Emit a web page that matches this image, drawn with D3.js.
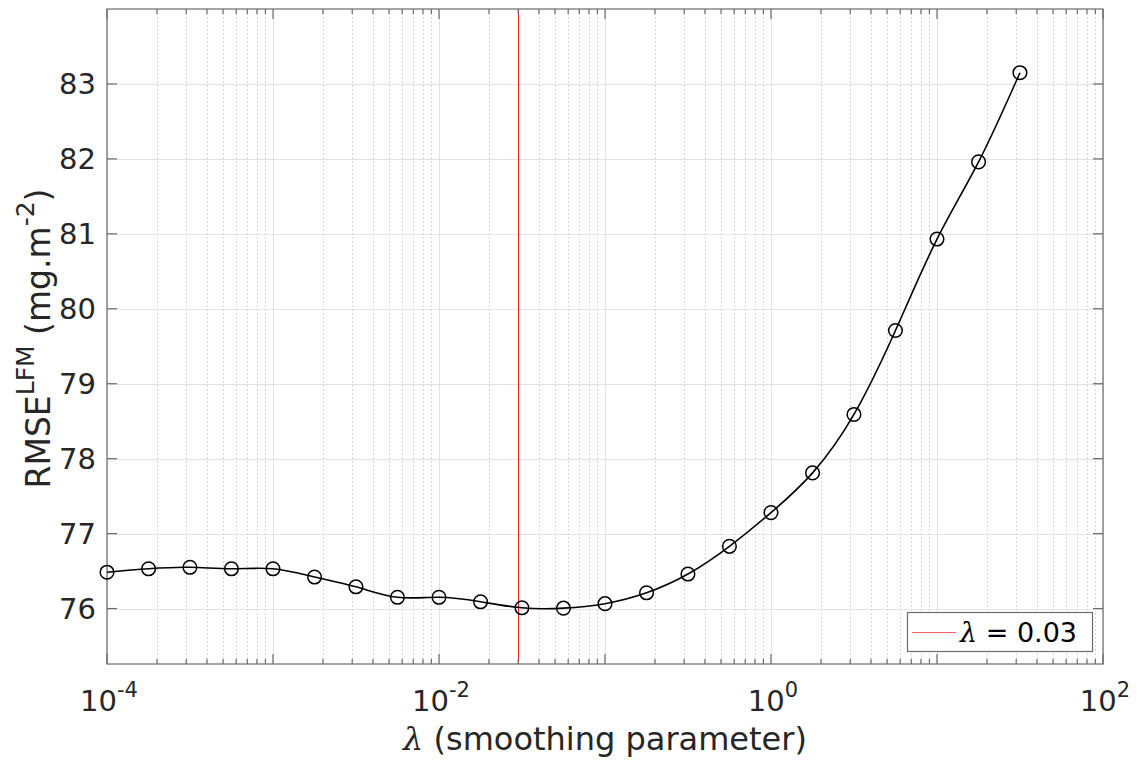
<!DOCTYPE html>
<html>
<head>
<meta charset="utf-8">
<script src="https://cdn.jsdelivr.net/npm/d3@7"></script>
<style>
    body { margin: 0; background: #fff; }
    svg { display: block; font-family: "DejaVu Sans", sans-serif; }
</style>
</head>
<body>
<svg id="chart" width="1138" height="762"></svg>
<script>
(function () {
    'use strict';

    // smoothing parameter values (quarter-decade steps) and the RMSE
    const lambdas = [1.0e-4, 1.78e-4, 3.16e-4, 5.62e-4, 1.0e-3, 1.78e-3, 3.16e-3, 5.62e-3,
                     0.01, 0.0178, 0.0316, 0.0562, 0.1, 0.178, 0.316, 0.562,
                     1, 1.78, 3.16, 5.62, 10, 17.8, 31.6];
    const rmse = [76.485, 76.53, 76.55, 76.53, 76.53, 76.42, 76.29, 76.15,
                  76.15, 76.09, 76.01, 76.005, 76.065, 76.21, 76.46, 76.83,
                  77.28, 77.81, 78.59, 79.71, 80.93, 81.96, 83.15];
    const chosenLambda = 0.03;
    const xDecades = [-4, -3, -2, -1, 0, 1, 2];
    const xTickExponents = [-4, -2, 0, 2];
    const yTicks = [76, 77, 78, 79, 80, 81, 82, 83];

    const left = 107, right = 1103, top = 9, bottom = 664;
    const axisColor = "#6b6b6b";
    const textColor = "#262626";
    const greekFont = "DejaVu Serif";

    const x = d3.scaleLog().domain([1e-4, 1e2]).range([left, right]);
    const y = d3.scaleLinear().domain([75.26, 84]).range([bottom, top]);

    const minorTicks = [];
    xDecades.slice(0, -1).forEach(e => {
        for (let m = 2; m <= 9; m++) minorTicks.push(m * Math.pow(10, e));
    });
    const majorTicks = xDecades.map(e => Math.pow(10, e));

    const svg = d3.select('#chart');

    // grid
    const grid = svg.append("g");
    grid.selectAll("line.minor")
            .data(minorTicks)
            .join("line")
            .attr("x1", d => Math.round(x(d)) + 0.5)
            .attr("x2", d => Math.round(x(d)) + 0.5)
            .attr("y1", top)
            .attr("y2", bottom)
            .attr("stroke", "#d6d6d6")
            .attr("stroke-dasharray", "2,2");
    grid.selectAll("line.majorx")
            .data(majorTicks)
            .join("line")
            .attr("x1", d => Math.round(x(d)) + 0.5)
            .attr("x2", d => Math.round(x(d)) + 0.5)
            .attr("y1", top)
            .attr("y2", bottom)
            .attr("stroke", "#e2e2e2");
    grid.selectAll("line.majory")
            .data(yTicks)
            .join("line")
            .attr("x1", left)
            .attr("x2", right)
            .attr("y1", d => Math.round(y(d)) + 0.5)
            .attr("y2", d => Math.round(y(d)) + 0.5)
            .attr("stroke", "#e2e2e2");

    // chosen lambda
    svg.append("line")
            .attr("x1", Math.round(x(chosenLambda)) + 0.5)
            .attr("x2", Math.round(x(chosenLambda)) + 0.5)
            .attr("y1", top)
            .attr("y2", bottom)
            .attr("stroke", "#ff2020")
            .attr("stroke-width", 1);

    // box and ticks
    const frame = svg.append("g").attr("stroke", axisColor).attr("stroke-width", 1.2);
    frame.append("rect")
            .attr("x", left)
            .attr("y", top)
            .attr("width", right - left)
            .attr("height", bottom - top)
            .attr("fill", "none");

    const xTickData = majorTicks.map(v => ({v, len: 10})).concat(minorTicks.map(v => ({v, len: 5})));
    frame.selectAll("line.xb")
            .data(xTickData)
            .join("line")
            .attr("x1", d => x(d.v))
            .attr("x2", d => x(d.v))
            .attr("y1", bottom)
            .attr("y2", d => bottom - d.len);
    frame.selectAll("line.xt")
            .data(xTickData)
            .join("line")
            .attr("x1", d => x(d.v))
            .attr("x2", d => x(d.v))
            .attr("y1", top)
            .attr("y2", d => top + d.len);
    frame.selectAll("line.yl")
            .data(yTicks)
            .join("line")
            .attr("x1", left)
            .attr("x2", left + 10)
            .attr("y1", d => y(d))
            .attr("y2", d => y(d));
    frame.selectAll("line.yr")
            .data(yTicks)
            .join("line")
            .attr("x1", right)
            .attr("x2", right - 10)
            .attr("y1", d => y(d))
            .attr("y2", d => y(d));

    // tick labels
    svg.append("g")
            .attr("fill", textColor)
            .attr("font-size", 29)
            .attr("text-anchor", "end")
            .selectAll("text")
            .data(yTicks)
            .join("text")
            .attr("x", 96)
            .attr("y", d => y(d))
            .attr("dy", "0.36em")
            .text(d => d);

    const xLabels = svg.append("g")
            .attr("fill", textColor)
            .attr("text-anchor", "middle")
            .selectAll("text")
            .data(xTickExponents)
            .join("text")
            .attr("x", d => x(Math.pow(10, d)) + 2)
            .attr("y", 711)
            .attr("font-size", 29);
    xLabels.append("tspan").text("10");
    xLabels.append("tspan")
            .attr("font-size", 21)
            .attr("dy", -14)
            .text(d => d);

    // curve and markers
    const points = lambdas.map((l, i) => [x(l), y(rmse[i])]);
    svg.append("path")
            .attr("d", d3.line().curve(d3.curveNatural)(points))
            .attr("fill", "none")
            .attr("stroke", "#000")
            .attr("stroke-width", 1.6);
    svg.append("g")
            .selectAll("circle")
            .data(points)
            .join("circle")
            .attr("cx", d => d[0])
            .attr("cy", d => d[1])
            .attr("r", 6.8)
            .attr("fill", "none")
            .attr("stroke", "#000")
            .attr("stroke-width", 1.5);

    // axis labels
    const xTitle = svg.append("text")
            .attr("x", (left + right) / 2)
            .attr("y", 750)
            .attr("text-anchor", "middle")
            .attr("font-size", 32)
            .attr("fill", textColor);
    xTitle.append("tspan").attr("font-family", greekFont).attr("font-style", "italic").text("λ");
    xTitle.append("tspan").text(" (smoothing parameter)");

    const yLabel = svg.append("text")
            .attr("transform", `translate(50,${(top + bottom) / 2 + 2}) rotate(-90)`)
            .attr("text-anchor", "middle")
            .attr("font-size", 33)
            .attr("fill", textColor);
    yLabel.append("tspan").text("RMSE");
    yLabel.append("tspan").attr("font-size", 25).attr("dy", -16).text("LFM");
    yLabel.append("tspan").attr("dy", 16).text(" (mg.m");
    yLabel.append("tspan").attr("font-size", 25).attr("dy", -16).text("-2");
    yLabel.append("tspan").attr("dy", 16).text(")");

    // legend
    const legend = svg.append("g");
    legend.append("rect")
            .attr("x", 907.5)
            .attr("y", 612.5)
            .attr("width", 185)
            .attr("height", 39)
            .attr("fill", "#fff")
            .attr("stroke", axisColor)
            .attr("stroke-width", 1.2);
    legend.append("line")
            .attr("x1", 912)
            .attr("x2", 956)
            .attr("y1", 632.5)
            .attr("y2", 632.5)
            .attr("stroke", "#ff6060")
            .attr("stroke-width", 1);
    const legendText = legend.append("text")
            .attr("x", 960)
            .attr("y", 642)
            .attr("font-size", 27)
            .attr("fill", "#000");
    legendText.append("tspan").attr("font-family", greekFont).attr("font-style", "italic").text("λ");
    legendText.append("tspan").text(` = ${chosenLambda}`);

}());
</script>
</body>
</html>
